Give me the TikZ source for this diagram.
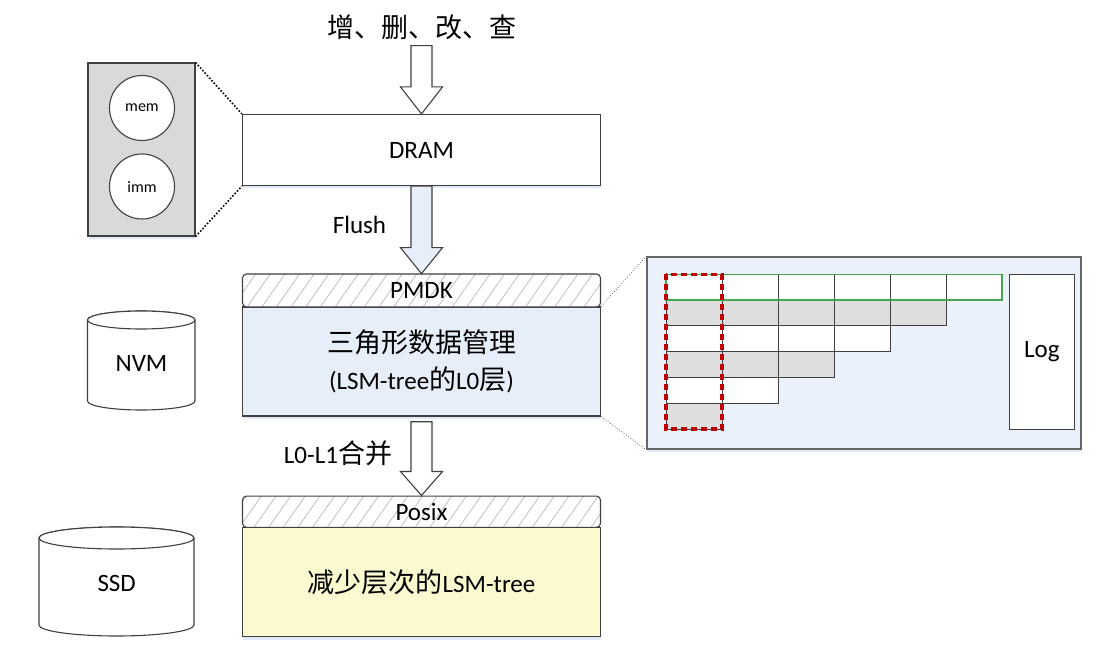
\documentclass[tikz,border=0pt]{standalone}
\usepackage{fontspec}
\setmainfont{Carlito}
\newfontfamily\cjk{Noto Sans CJK SC}
\usetikzlibrary{calc,patterns.meta,shadows}
\definecolor{linecol}{HTML}{404040}
\definecolor{boxblue}{HTML}{E6EEF9}
\definecolor{panelblue}{HTML}{EAF1FA}
\definecolor{boxyellow}{HTML}{FAF9D0}
\definecolor{cellgray}{HTML}{DEDEDE}
\definecolor{groupgray}{HTML}{D9D9D9}
\definecolor{greenline}{HTML}{47A552}
\definecolor{reddash}{HTML}{C00000}
\definecolor{shadowblue}{HTML}{C9DAF2}
\newcommand\zh[1]{{\cjk\fontsize{27}{37}\selectfont #1}}
\newcommand\fatarrow[4]{%
  \draw[fatline, fill=#1] let \p1=(#2), \p2=(#3) in
   (\x2-10.5pt,\y1) -- (\x2-10.5pt,\y2+#4) -- (\x2-21pt,\y2+#4) -- (\x2,\y2)
   -- (\x2+21pt,\y2+#4) -- (\x2+10.5pt,\y2+#4) -- (\x2+10.5pt,\y1) -- cycle;}
\begin{document}
\begin{tikzpicture}[x=1pt,y=-1pt,
  lat/.style={font=\fontsize{25}{37}\selectfont},
  small/.style={font=\fontsize{16}{19}\selectfont},
  shad/.style={drop shadow={shadow xshift=0.5pt, shadow yshift=-3pt, fill=shadowblue, opacity=0.6}},
  layer/.style={draw=linecol, line width=1.1pt, rectangle, inner sep=0pt, minimum width=358pt, align=center, lat},
  hatch/.style={layer, rounded corners=4pt, preaction={fill=white},
     pattern={Lines[angle=55,distance=12pt,line width=0.7pt]}, pattern color=gray!55},
  fatline/.style={draw=linecol, line width=1.1pt, line join=miter},
  cyl/.style={draw=linecol, line width=1.1pt, fill=white},
  cell/.style={draw=linecol, line width=0.9pt},
  zoomline/.style={draw=black, line width=1.6pt, dash pattern=on 1.6pt off 1.8pt},
  thinzoom/.style={draw=gray!70!black, line width=0.8pt, dotted}
]
\useasboundingbox (0,0) rectangle (1108,660);

% top operations
\node[inner sep=0pt] (ops) at (422,27) {\zh{增、删、改、查}};
\coordinate (opsin) at (422,45.7);

% memory group
\node[draw=linecol, line width=1.1pt, fill=groupgray, minimum width=107pt, minimum height=173pt, inner sep=0pt, shad] (group) at (141.5,149.5) {};
\node[circle, draw=linecol, line width=1.1pt, fill=white, minimum size=65pt, inner sep=0pt, small] (mem) at (142,108) {mem};
\node[circle, draw=linecol, line width=1.1pt, fill=white, minimum size=65pt, inner sep=0pt, small] (imm) at (142,186.5) {imm};

% DRAM
\node[layer, fill=white, minimum height=71pt, shad] (dram) at (421.5,150) {DRAM};
\draw[zoomline] (group.north east) -- (dram.north west);
\draw[zoomline] (group.south east) -- (dram.south west);

% PMDK + L0
\node[layer, fill=boxblue, minimum height=109pt, shad] (l0) at (421.5,361.5) {\zh{三角形数据管理}\\(LSM-tree\zh{的}L0\zh{层})};
\node[hatch, minimum height=33pt] (pmdk) at (421.5,290.5) {PMDK};

% Posix + LSM
\node[layer, fill=boxyellow, minimum height=109.4pt, shad] (lsm) at (421.5,582) {\zh{减少层次的}LSM-tree};
\node[hatch, minimum height=31.3pt] (posix) at (421.5,511.7) {Posix};
\coordinate (l0out) at (422,421.7);

% arrows
\fatarrow{white}{opsin}{dram.north}{27pt}
\fatarrow{boxblue}{dram.south}{pmdk.north}{26pt}
\fatarrow{white}{l0out}{posix.north}{24pt}
\node[lat, inner sep=0pt] (flush) at (359.5,225) {Flush};
\node[lat, inner sep=0pt] (merge) at (338,453) {L0-L1\zh{合并}};

% NVM cylinder
\draw[cyl] (87.5,320) -- (87.5,401) arc[start angle=180, end angle=0, x radius=53.75, y radius=9]
  -- (195,320) arc[start angle=0, end angle=-180, x radius=53.75, y radius=9] -- cycle;
\draw[cyl] (141.25,320) ellipse[x radius=53.75, y radius=9];
\node[lat, inner sep=0pt] (nvm) at (141.5,363) {NVM};

% SSD cylinder
\draw[cyl] (39,538) -- (39,625) arc[start angle=180, end angle=0, x radius=77.5, y radius=11]
  -- (194,538) arc[start angle=0, end angle=-180, x radius=77.5, y radius=11] -- cycle;
\draw[cyl] (116.5,538) ellipse[x radius=77.5, y radius=11];
\node[lat, inner sep=0pt] (ssd) at (116.7,583) {SSD};

% right panel
\node[draw=gray!80!black, line width=1.5pt, fill=panelblue, minimum width=434pt, minimum height=192pt, inner sep=0pt, shad] (panel) at (864,353) {};
\draw[thinzoom] (l0.north east) -- (panel.north west);
\draw[thinzoom] (l0.south east) -- (panel.south west);

\foreach \r in {0,...,5}{
  \pgfmathtruncatemacro\n{5-\r}
  \ifodd\r\def\cf{cellgray}\else\def\cf{white}\fi
  \foreach \c in {0,...,\n}{
    \draw[cell, fill=\cf] (666+56*\c, 274.3+25.8*\r) rectangle ++(56,25.8);
  }
}
\draw[draw=greenline, line width=1.4pt] (666,274.3) rectangle (1002,300.1);
\draw[draw=reddash, line width=3.4pt, dash pattern=on 6pt off 4pt] (666,274.3) rectangle (722,429);
\node[draw=linecol, line width=1.1pt, fill=white, minimum width=65pt, minimum height=154.7pt, inner sep=0pt, lat] (log) at (1041.8,351.7) {Log};
\end{tikzpicture}
\end{document}
